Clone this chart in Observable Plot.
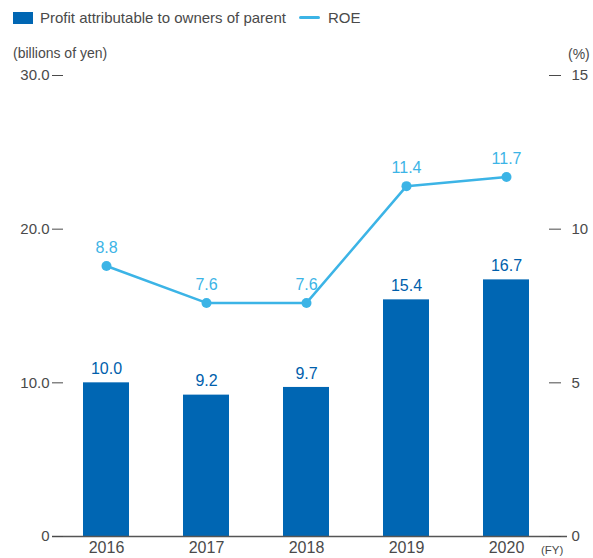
<!DOCTYPE html>
<html><head><meta charset="utf-8">
<script src="https://cdn.jsdelivr.net/npm/d3@7"></script>
<script src="https://cdn.jsdelivr.net/npm/@observablehq/plot@0.6"></script>
<style>
body{margin:0;background:#fff;font-family:"Liberation Sans",Arial,sans-serif;color:#4a4a4a;}
#wrap{position:relative;width:593px;height:558px;}
#chart{position:absolute;left:0;top:0;}
.abs{position:absolute;white-space:nowrap;font-size:14px;line-height:1;}
</style></head>
<body>
<div id="wrap">
<div id="chart"></div>
<div class="abs" style="left:13px;top:10px;display:flex;align-items:center;font-size:15px;">
  <span style="display:inline-block;width:20px;height:12px;background:#0066b3;margin-right:7px"></span>
  <span id="l1"></span>
  <span style="display:inline-block;width:21px;height:3px;border-radius:2px;background:#3cb4e6;margin:0 8px 0 13px"></span>
  <span id="l2"></span>
</div>
<div class="abs" id="u1" style="left:13px;top:46px;"></div>
<div class="abs" id="u2" style="left:568px;top:47px;"></div>
<div class="abs" id="fy" style="left:541px;top:545px;font-size:11.5px;"></div>
</div>
<script>
const years = ["2016","2017","2018","2019","2020"];
const profit = [10.0, 9.2, 9.7, 15.4, 16.7];
const roe = [8.8, 7.6, 7.6, 11.4, 11.7];
const leftTicks = [0, 10, 20, 30];
const rightTicks = [0, 5, 10, 15];
const seriesNames = ["Profit attributable to owners of parent", "ROE"];
const unitLeft = "(billions of yen)";
const unitRight = "(%)";
const xUnit = "(FY)";

document.getElementById("l1").textContent = seriesNames[0];
document.getElementById("l2").textContent = seriesNames[1];
document.getElementById("u1").textContent = unitLeft;
document.getElementById("u2").textContent = unitRight;
document.getElementById("fy").textContent = xUnit;

const data = years.map((y, i) => ({year: y, profit: profit[i], roe: roe[i]}));
const barColor = "#0066b3", lineColor = "#3cb4e6";

const chart = Plot.plot({
  width: 593, height: 558,
  marginLeft: 52, marginRight: 26, marginTop: 75, marginBottom: 22,
  style: {fontFamily: '"Liberation Sans", Arial, sans-serif', fontSize: "15px", color: "#4a4a4a", background: "transparent"},
  x: {type: "band", domain: years, range: [56, 556], paddingInner: 0.54, paddingOuter: 0.27},
  y: {domain: [0, 30], range: [536, 75]},
  marks: [
    Plot.barY(data, {x: "year", y: "profit", fill: barColor}),
    Plot.ruleY([0], {stroke: "#555", strokeWidth: 1.5}),
    Plot.axisY(leftTicks, {anchor: "left", tickSize: 11, dx: 11, tickPadding: 3, fontSize: 15,
      tickFormat: d => d === 0 ? "0" : d.toFixed(1), label: null, color: "#4a4a4a"}),
    Plot.axisY(rightTicks.map(d => d * 2), {anchor: "right", tickSize: 12, dx: -19, tickPadding: 11, fontSize: 15,
      tickFormat: d => String(d / 2), label: null, color: "#4a4a4a"}),
    Plot.axisX({tickSize: 0, tickPadding: 5, fontSize: 16, label: null, color: "#4a4a4a"}),
    Plot.line(data, {x: "year", y: d => d.roe * 2, stroke: lineColor, strokeWidth: 2.5}),
    Plot.dot(data, {x: "year", y: d => d.roe * 2, r: 5, fill: lineColor}),
    Plot.text(data, {x: "year", y: "profit", text: d => d.profit.toFixed(1), dy: -14, fill: "#0060ac", fontSize: 16}),
    Plot.text(data, {x: "year", y: d => d.roe * 2, text: d => d.roe.toFixed(1), dy: -18, fill: lineColor, fontSize: 16})
  ]
});
document.getElementById("chart").appendChild(chart);
</script>
</body></html>
